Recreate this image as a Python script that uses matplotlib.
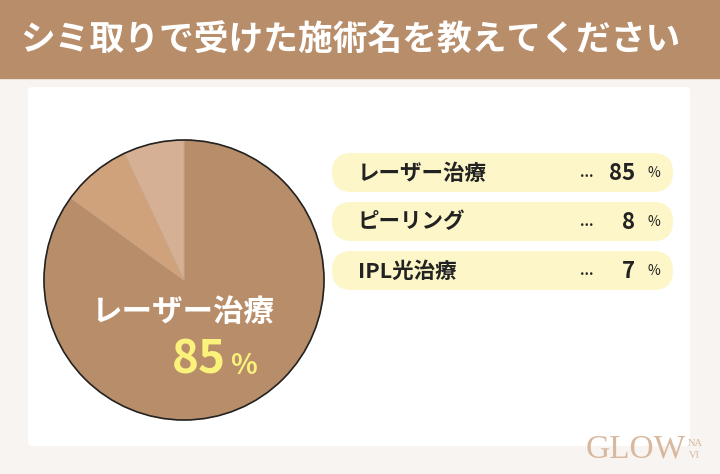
import numpy as np
import matplotlib
matplotlib.use('Agg')
import matplotlib.pyplot as plt
from matplotlib.patches import FancyBboxPatch, Rectangle, Circle

plt.rcParams['font.family'] = ['Noto Sans CJK JP', 'DejaVu Sans']

title = 'シミ取りで受けた施術名を教えてください'
categories = ['レーザー治療', 'ピーリング', 'IPL光治療']
values = [85, 8, 7]
slice_colors = ['#B88D6A', '#CFA27C', '#D5B094']

W, H = 720, 474
fig = plt.figure(figsize=(7.2, 4.74), dpi=100)
ax = fig.add_axes([0, 0, 1, 1])

def py(y):
    # pixel y (from top) -> data y
    return H - y

# background
ax.add_patch(Rectangle((0, 0), W, H, color='#F8F4F1', zorder=0))
# banner
ax.add_patch(Rectangle((0, py(78)), W, 78, color='#B88D6A', zorder=1))
ax.text(20, py(40), title, color='white', fontsize=25, fontweight='bold',
        ha='left', va='center', zorder=2)
# white panel
ax.add_patch(FancyBboxPatch((28, py(446)), 662, 359, boxstyle='round,pad=0,rounding_size=4',
                            fc='white', ec='none', zorder=1))

# pie
cx, cy, r = 184, py(280), 140
wedges, _ = ax.pie(values, colors=slice_colors, startangle=90, counterclock=False,
                   center=(cx, cy), radius=r, frame=True,
                   wedgeprops=dict(edgecolor='#C9A386', linewidth=0.6))
for w in wedges:
    w.set_zorder(3)
ax.add_patch(Circle((cx, cy), r, fill=False, ec='#222222', lw=1.2, zorder=4))

ax.text(183, py(312), categories[0], color='white', fontsize=22, fontweight='bold',
        ha='center', va='center', zorder=5)
ax.text(226, py(360), str(values[0]), color='#FAF27A', fontsize=33, fontweight='bold',
        ha='right', va='center', zorder=5)
ax.text(230, py(366), '%', color='#FAF27A', fontsize=20, fontweight='bold',
        ha='left', va='center', zorder=5)

# legend pills
pill_tops = [153, 202, 251]
for top, cat, val in zip(pill_tops, categories, values):
    ax.add_patch(FancyBboxPatch((332, py(top + 39)), 341, 39,
                                boxstyle='round,pad=0,rounding_size=19.5',
                                fc='#FDF6C9', ec='none', zorder=2))
    yc = py(top + 20)
    ax.text(358, yc, cat, color='#222222', fontsize=15.5, fontweight='bold',
            ha='left', va='center', zorder=3)
    ax.text(587, yc, '...', color='#222222', fontsize=10, fontweight='bold',
            ha='center', va='center', zorder=3)
    ax.text(635, yc, str(val), color='#222222', fontsize=16, fontweight='bold',
            ha='right', va='center', zorder=3)
    ax.text(654, yc, '%', color='#222222', fontsize=10,
            ha='center', va='center', zorder=3)

# logo
ax.text(586, py(449), 'GLOW', color='#D8B89E', fontsize=24, family='Liberation Serif',
        ha='left', va='center', zorder=2)
ax.text(688, py(443), 'NA', color='#D8B89E', fontsize=7.5, family='Liberation Serif',
        ha='left', va='center', zorder=2)
ax.text(689, py(456), 'VI', color='#D8B89E', fontsize=7.5, family='Liberation Serif',
        ha='left', va='center', zorder=2)

ax.set_xlim(0, W)
ax.set_ylim(0, H)
ax.set_aspect('auto')
ax.axis('off')

fig.savefig('out.png', dpi=100)
